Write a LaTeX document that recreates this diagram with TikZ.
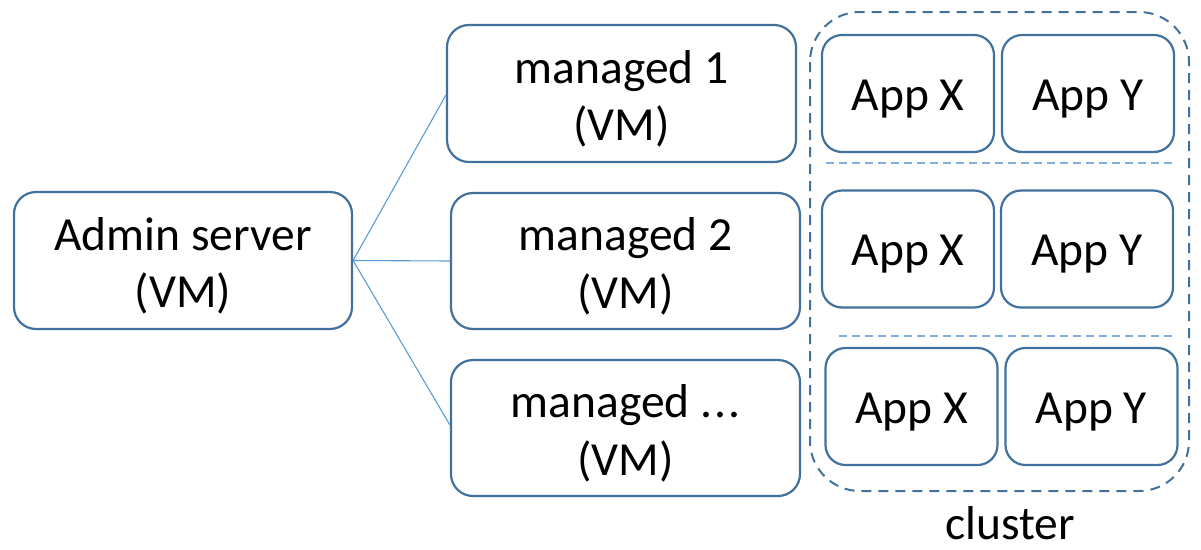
\documentclass[tikz,border=0pt]{standalone}
\usepackage{fontspec}
\setmainfont{Carlito}
\definecolor{boxblue}{HTML}{41719C}
\definecolor{lineblue}{HTML}{5B9BD5}
\definecolor{sepblue}{HTML}{7FB0DE}
\newcommand\tallstrut{\rule{0pt}{44pt}}
\newcommand\appstrut{\rule{0pt}{41pt}}
\begin{document}
\begin{tikzpicture}[x=1pt,y=-1pt,
  vmbox/.style={draw=boxblue,line width=2.2pt,rounded corners=22pt,fill=white,align=center,
    font=\fontsize{47.5}{57.5}\selectfont,inner sep=0pt},
  appbox/.style={draw=boxblue,line width=2.2pt,rounded corners=20pt,fill=white,align=center,
    font=\fontsize{47.5}{57.5}\selectfont,inner sep=0pt,minimum width=172pt,minimum height=117pt},
  conn/.style={draw=lineblue,line width=1.1pt},
  sep/.style={draw=sepblue,line width=1.1pt,dash pattern=on 8pt off 5pt},
  clusterbox/.style={draw=boxblue,line width=2pt,dash pattern=on 10pt off 7pt,rounded corners=50pt}]
\useasboundingbox (0,0) rectangle (1201,549);
\node[vmbox,minimum width=338pt,minimum height=137pt] (admin) at (183,260.5) {\tallstrut Admin server\\(VM)};
\node[vmbox,minimum width=349pt,minimum height=137pt] (m1) at (621.5,93.5) {\tallstrut managed 1\\(VM)};
\node[vmbox,minimum width=349pt,minimum height=136pt] (m2) at (625.5,261) {\tallstrut managed 2\\(VM)};
\node[vmbox,minimum width=349pt,minimum height=136pt] (m3) at (625.5,428) {\tallstrut managed .\kern2pt.\kern2pt.\\(VM)};
\coordinate (cl1) at (810,12);
\coordinate (cl2) at (1189,491);
\draw[clusterbox] (cl1) rectangle (cl2);
\node[appbox] (x1) at (908,93.5) {\appstrut App X};
\node[appbox] (y1) at (1088,93.5) {\appstrut App Y};
\node[appbox] (x2) at (908,249) {\appstrut App X};
\node[appbox] (y2) at (1087,249) {\appstrut App Y};
\node[appbox] (x3) at (911.5,406.5) {\appstrut App X};
\node[appbox] (y3) at (1091.5,406.5) {\appstrut App Y};
\coordinate (s1a) at (826,163);
\coordinate (s1b) at (1174,163);
\coordinate (s2a) at (839,336);
\coordinate (s2b) at (1174,336);
\draw[sep] (s1a) -- (s1b);
\draw[sep] (s2a) -- (s2b);
\node[font=\fontsize{47.5}{57.5}\selectfont,inner sep=0pt,anchor=base,text depth=0pt] (cl) at (1010,539) {cluster};
\draw[conn] (admin.east) -- (m1.west |- 0,95);
\draw[conn] (admin.east) -- (m2.west);
\draw[conn] (admin.east) -- (m3.west |- 0,425);
\end{tikzpicture}
\end{document}
